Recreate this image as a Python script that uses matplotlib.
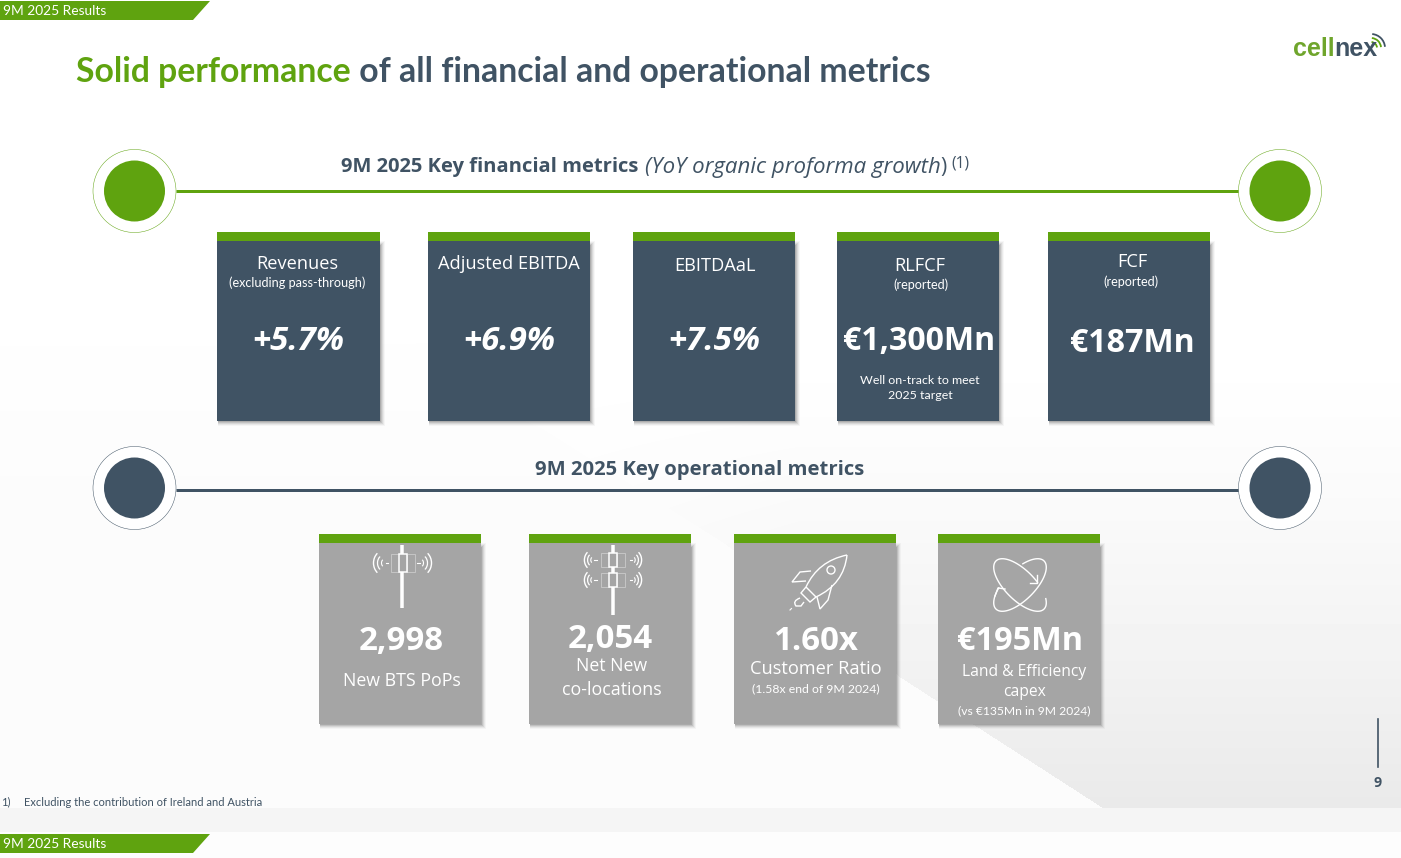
import numpy as np
import matplotlib
matplotlib.use("Agg")
import matplotlib.pyplot as plt
from matplotlib.patches import Rectangle, Circle, Polygon, Arc, PathPatch
from matplotlib.path import Path

# ---- content ----
header_label = "9M 2025 Results"
title_green = "Solid performance"
title_dark = " of all financial and operational metrics"
fin_heading = ["9M 2025 Key financial metrics ", "(YoY organic proforma growth", ")", "(1)"]
op_heading = "9M 2025 Key operational metrics"
fin_titles = ["Revenues", "Adjusted EBITDA", "EBITDAaL", "RLFCF", "FCF"]
fin_subs = ["(excluding pass-through)", "", "", "(reported)", "(reported)"]
fin_values = ["+5.7%", "+6.9%", "+7.5%", "€1,300Mn", "€187Mn"]
fin_note = "Well on-track to meet\n2025 target"
op_values = ["2,998", "2,054", "1.60x", "€195Mn"]
op_titles = ["New BTS PoPs", "Net New\nco-locations", "Customer Ratio", "Land & Efficiency\ncapex"]
op_subs = ["", "", "(1.58x end of 9M 2024)", "(vs €135Mn in 9M 2024)"]
footnote_no = "1)"
footnote = "Excluding the contribution of Ireland and Austria"
page_no = "9"

GREEN = "#5FA30F"
DARK = "#405364"
GREY = "#A5A5A5"
FONT = "Lato"
OPEN = "Open Sans"
px = 0.72

fig = plt.figure(figsize=(14.01, 8.58), dpi=100)
ax = fig.add_axes([0, 0, 1, 1])
ax.set_xlim(0, 1401); ax.set_ylim(858, 0); ax.axis("off")

# ---- background ----
yy, xx = np.mgrid[0:858, 0:1401]
edge = np.interp(xx, [0, 388, 540, 724, 900, 1103, 1401], [300, 363, 427, 543, 677, 808, 1000])
bg = np.ones((858, 1401))
# pale sheet at lower left
low = 0.012 * np.clip((yy - 280) / 200, 0, 1)
# greyer panel to the right of the diagonal, darkening downward
fade = np.clip((yy - 330) / (808 - 330), 0, 1) ** 1.4 * np.clip((xx - 300) / 500, 0, 1)
high = 0.012 * np.clip((yy - 280) / 200, 0, 1) * (xx < 500) + 0.085 * fade
bg -= np.where(yy > edge, low, high)
bg[808:832, :] = 0.96
bg[832:, :] = 0.99
ax.imshow(bg, cmap="gray", vmin=0, vmax=1, extent=(0, 1401, 858, 0), aspect="auto", zorder=0)
ax.set_xlim(0, 1401); ax.set_ylim(858, 0)

def T(x, y, s, size, color="white", weight="normal", style="normal", ha="center", va="center", font=FONT, ls=1.2):
    return ax.text(x, y, s, fontsize=size * px, color=color, fontweight=weight, fontstyle=style,
                   ha=ha, va=va, family=font, zorder=6, linespacing=ls)

def after(artist):
    fig.canvas.draw()
    return artist.get_window_extent().x1

# ---- header / footer tabs ----
for top, bot in [(1, 20), (834, 853)]:
    ax.add_patch(Polygon([(0, top), (210, top), (193, bot), (0, bot)], fc=GREEN, ec="none", zorder=3))
    T(3, (top + bot) / 2 + 0.5, header_label, 13.7, ha="left")

# ---- title ----
t1 = T(76, 72, title_green, 33.8, color=GREEN, weight="bold", ha="left")
T(after(t1), 72, title_dark, 33.8, color=DARK, weight="bold", ha="left")

# ---- logo ----
t = T(1293, 49, "cell", 25, color="#6FA52C", weight="bold", ha="left", font="Liberation Sans")
T(after(t), 49, "nex", 25, color=DARK, weight="bold", ha="left", font="Liberation Sans")
for r, c in [(6, GREEN), (10, GREEN), (14, DARK)]:
    ax.add_patch(Arc((1371, 48), r * 2, r * 2, theta1=-85, theta2=-5, ec=c, lw=1.3, zorder=5))

# ---- section rules ----
for y_c, y_l, col in [(191, 191, GREEN), (488, 490, DARK)]:
    ax.plot([176, 1239], [y_l, y_l], color=col, lw=3 * px, solid_capstyle="butt", zorder=3)
    for xc in (134.5, 1280):
        ax.add_patch(Circle((xc, y_c), 41.5, fc="white", ec=col, lw=0.35, zorder=4))
        ax.add_patch(Circle((xc, y_c), 30.5, fc=col, ec="none", zorder=5))

# section headings
a = T(341, 167, fin_heading[0], 20.1, color=DARK, weight="bold", ha="left", font=OPEN)
b = T(after(a) + 1, 167, fin_heading[1], 22.3, color=DARK, style="italic", ha="left", font=OPEN)
c = T(after(b), 167, fin_heading[2], 21, color=DARK, ha="left", font=OPEN)
T(after(c) + 5, 163, fin_heading[3], 15.5, color=DARK, ha="left", font=OPEN)
T(700, 470, op_heading, 20.3, color=DARK, weight="bold", font=OPEN)

def card(x0, x1, top, bot, col):
    for k, a_ in zip(range(5), [0.04, 0.07, 0.10, 0.14, 0.18]):
        grow = 4.5 - k
        ax.add_patch(Rectangle((x0 + 1, top + 9 + k), x1 - x0 + grow - 1, bot - top - 9 + grow - k,
                               fc="#444444", alpha=a_, ec="none", zorder=2))
    ax.add_patch(Rectangle((x0, top + 9), x1 - x0, bot - top - 9, fc=col, ec="none", zorder=3))
    ax.add_patch(Rectangle((x0, top), x1 - x0, 9, fc=GREEN, ec="none", zorder=4))

# ---- financial cards ----
fin_x = [(217, 380), (428, 590), (633, 795), (837, 999), (1048, 1210)]
fin_title_y = [264, 264, 266, 266, 262]
fin_sub_y = [283, None, None, 285, 282]
fin_val_y = [341, 341, 341, 341, 344]
fin_val_cx = [298, 509, 714, 919, 1132]
for i, (x0, x1) in enumerate(fin_x):
    card(x0, x1, 232, 421, DARK)
    T(fin_val_cx[i] - (1 if i == 0 else 0) + (1 if i == 2 else 0) + (1 if i == 3 else 0),
      fin_title_y[i], fin_titles[i], 18.3, font=OPEN)
    if fin_subs[i]:
        T(fin_val_cx[i] - 1 + (3 if i == 3 else 0), fin_sub_y[i], fin_subs[i], 12.6)
    italic = i < 3
    T(fin_val_cx[i], fin_val_y[i], fin_values[i], 33 if italic else 32.2, weight="bold",
      style="italic" if italic else "normal", font=OPEN)
T(920, 388, fin_note, 12.4, ls=1.55)

# ---- operational cards ----
op_x = [(319, 481), (529, 691), (734, 896), (938, 1100)]
for x0, x1 in op_x:
    card(x0, x1, 534, 724, GREY)

T(401, 641, op_values[0], 33, weight="bold", font=OPEN)
T(402, 681, op_titles[0], 17.8, font=OPEN)
T(610.5, 640, op_values[1], 33, weight="bold", font=OPEN)
T(612, 678, op_titles[1], 17.8, font=OPEN, ls=1.44)
T(816, 641, op_values[2], 33, weight="bold", font=OPEN)
T(816, 669, op_titles[2], 18.3, font=OPEN)
T(816, 689, op_subs[2], 12.2)
T(1020, 641, op_values[3], 32.5, weight="bold", font=OPEN)
T(1024, 682, op_titles[3], 15.6, font=OPEN, ls=1.34)
T(1024, 711, op_subs[3], 12.1)

# ---- icons ----
W = "white"
def antenna(cx, cy, d, scale, bw, bh, cw):
    for s in (-1, 1):
        for r, lw in [(4, 0.8), (8, 0.9), (12, 1.0)]:
            r = r * scale
            th = (-50, 50) if s > 0 else (130, 230)
            ax.add_patch(Arc((cx + s * d, cy), r * 2, r * 2.2, theta1=th[0], theta2=th[1], ec=W, lw=lw, zorder=6))
        ax.plot([cx + s * d, cx + s * (d - 2.5)], [cy, cy], color=W, lw=0.8, zorder=6)
        ax.add_patch(Rectangle((cx + s * (cw / 2 + bw / 2) - bw / 2, cy - bh / 2), bw, bh,
                               fc="none", ec="#c6c6c6", lw=0.7, zorder=6))
    ax.add_patch(Rectangle((cx - cw / 2, cy - bh / 2), cw, bh, fc=GREY, ec=W, lw=1.1, zorder=7))

ax.plot([402, 402], [545, 608], color=W, lw=3.5 * px, solid_capstyle="butt", zorder=6)
antenna(402.5, 563, 17, 1.0, 8, 18, 8)
ax.plot([613, 613], [545, 615], color=W, lw=3.5 * px, solid_capstyle="butt", zorder=6)
antenna(613, 560, 19, 0.8, 8, 14, 8)
antenna(613, 580, 19, 0.8, 8, 14, 8)

# rocket
def curve(verts, codes, lw=1.0):
    ax.add_patch(PathPatch(Path(verts, codes), fc="none", ec=W, lw=lw, zorder=6))
M, L, Q = Path.MOVETO, Path.LINETO, Path.CURVE3
curve([(847, 555), (818, 561), (806, 587)], [M, Q, Q])
curve([(847, 555), (844, 584), (816, 597)], [M, Q, Q])
curve([(806, 587), (816, 597), (810, 602), (801, 593), (806, 587)], [M, L, L, L, L])
curve([(811, 571), (800, 572), (792, 582), (806, 581)], [M, L, L, L])
curve([(832, 585), (828, 600), (820, 609), (817, 597)], [M, L, L, L])
curve([(800, 598), (792, 601), (796, 606), (801, 606), (804, 602)], [M, Q, Q, L, L])
ax.add_patch(Circle((831, 570), 4, fc="none", ec=W, lw=1.0, zorder=6))
ax.plot([790, 791.5], [610, 608.5], color=W, lw=0.8, zorder=6)

# orbit icon
def orbit(u, v, t0, t1):
    t = np.radians(np.linspace(t0, t1, 120))
    p = 34 * np.cos(t)[:, None] * u + 15 * np.sin(t)[:, None] * v
    ax.plot(1020 + p[:, 0], 585 + p[:, 1], color=W, lw=1.0, zorder=6)
k = np.sqrt(0.5)
orbit(np.array([k, k]), np.array([k, -k]), 72, 395)
orbit(np.array([k, -k]), np.array([k, k]), 300, 600)
ax.plot([1030, 1037, 1037], [583, 583, 575], color=W, lw=1.0, zorder=7)
ax.plot([995, 998, 1005], [596, 588, 589], color=W, lw=1.0, zorder=7)

# ---- footnote, page number ----
T(1, 802, footnote_no, 11.1, color=DARK, ha="left")
T(24, 802, footnote, 11.1, color=DARK, ha="left")
ax.plot([1378, 1378], [719, 767], color=DARK, lw=1.2, zorder=5)
T(1378, 783, page_no, 14, color=DARK, weight="bold", font=OPEN)

fig.savefig("out.png", dpi=100)
